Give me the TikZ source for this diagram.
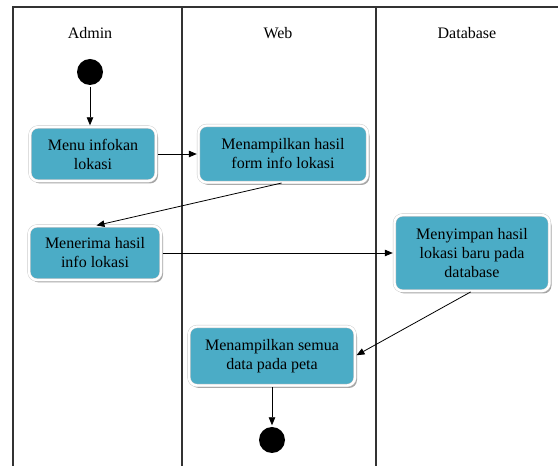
\documentclass[tikz,border=0pt]{standalone}
\usepackage{fontspec}
\setmainfont{Liberation Serif}
\usepackage{tikz}
\usetikzlibrary{shapes, arrows.meta, shadows}
\definecolor{actfill}{RGB}{75,172,198}
\tikzstyle{activity} = [rectangle, rounded corners=8pt, minimum height=54pt, text centered, align=center, fill=actfill, draw=gray!45, double=white, double distance=2.4pt, line width=0.4pt, drop shadow={shadow xshift=2pt, shadow yshift=-2.5pt, opacity=0.35, fill=black}]
\tikzstyle{startend} = [circle, fill=black, minimum size=26pt, inner sep=0pt]
\tikzstyle{lane} = [line width=1.1pt, draw=black!80]
\tikzstyle{arrow} = [line width=0.8pt, ->, >={Triangle[length=8pt, width=6.5pt]}, shorten <=1.5pt, shorten >=1.5pt]

\begin{document}
\begin{tikzpicture}[x=1pt, y=1pt, font=\fontsize{16}{19}\selectfont, node distance=82pt]
\useasboundingbox (0,0) rectangle (558,466);
% swimlanes
\draw [lane] (13,0) -- (13,459) -- (558,459);
\draw [lane] (182,0) -- (182,459);
\draw [lane] (376,0) -- (376,459);
\node (admin) at (90,433) {Admin};
\node (web) at (278,433) {Web};
\node (db) at (467,433) {Database};

\node (start) [startend] at (90,394) {};
\node (act1) [activity, minimum width=126pt, below of=start, xshift=3pt] {Menu infokan\\lokasi};
\node (act2) [activity, minimum width=169pt, minimum height=57pt, right of=act1, xshift=108pt] {Menampilkan hasil\\form info lokasi};
\node (act3) [activity, minimum width=132pt, below of=act1, yshift=-17pt, xshift=2pt] {Menerima hasil\\info lokasi};
\node (act4) [activity, minimum width=155pt, minimum height=76pt, right of=act3, xshift=295pt] {Menyimpan hasil\\lokasi baru pada\\database};
\node (act5) [activity, minimum width=166pt, minimum height=59pt, below of=act3, yshift=-21pt, xshift=177pt] {Menampilkan semua\\data pada peta};
\node (stop) [startend, below of=act5, yshift=-2pt] {};

%---------------------------------ARROWS
\draw [arrow] (start) -- (start |- act1.north);
\draw [arrow] (act1) -- (act2);
\draw [arrow] (act2.south) -- (act3.north);
\draw [arrow] (act3) -- (act4);
\draw [arrow] (act4.south) -- (act5.east);
\draw [arrow] (act5) -- (stop);

\end{tikzpicture}
\end{document}
